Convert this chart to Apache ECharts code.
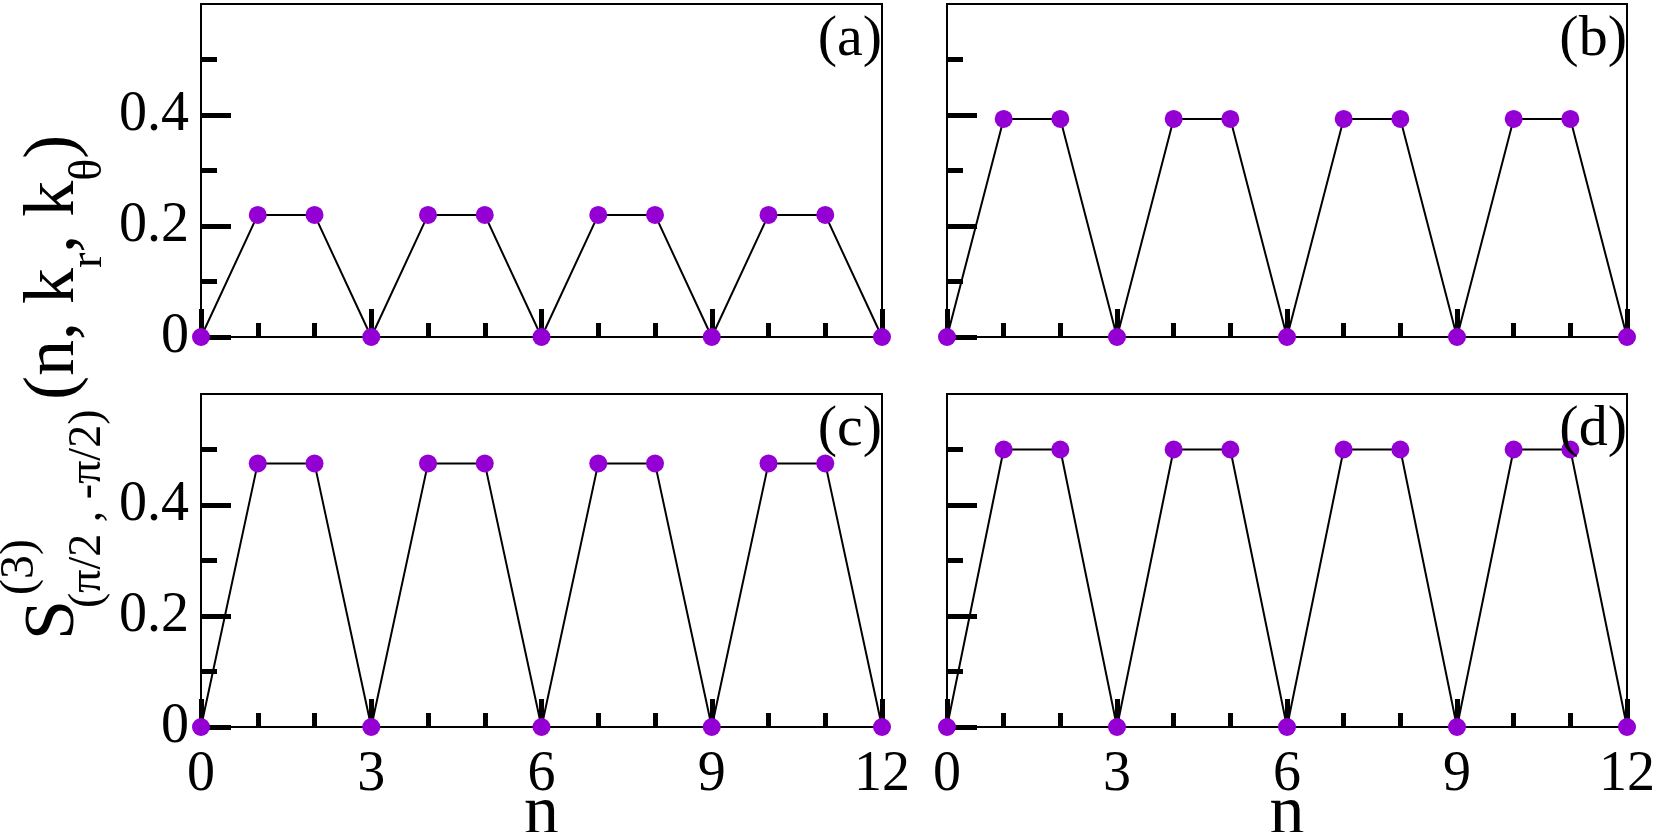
<!DOCTYPE html>
<html>
<head>
<meta charset="utf-8">
<script src="https://cdn.jsdelivr.net/npm/echarts@6/dist/echarts.min.js"></script>
<style>
  html, body { margin: 0; padding: 0; background: #fff; }
  #chart { width: 1661px; height: 832px; }
</style>
</head>
<body>
<div id="chart"></div>
<script>
// n values (x axis)
var nVals = [0, 1, 2, 3, 4, 5, 6, 7, 8, 9, 10, 11, 12];
// S values
var valsA = [0, 0.22, 0.22, 0, 0.22, 0.22, 0, 0.22, 0.22, 0, 0.22, 0.22, 0];
var valsB = [0, 0.393, 0.393, 0, 0.393, 0.393, 0, 0.393, 0.393, 0, 0.393, 0.393, 0];
var valsC = [0, 0.475, 0.475, 0, 0.475, 0.475, 0, 0.475, 0.475, 0, 0.475, 0.475, 0];
var valsD = [0, 0.5, 0.5, 0, 0.5, 0.5, 0, 0.5, 0.5, 0, 0.5, 0.5, 0];
var panelTags = ['(a)', '(b)', '(c)', '(d)'];
var yTickVals = [0, 0.2, 0.4];

var FONT = '"Liberation Serif", "Times New Roman", serif';
var myChart = echarts.init(document.getElementById('chart'));

var grids = [
  { left: 201, top: 4, width: 681, height: 333 },
  { left: 947, top: 4, width: 680, height: 333 },
  { left: 201, top: 394, width: 681, height: 333 },
  { left: 947, top: 394, width: 680, height: 333 }
];
var allVals = [valsA, valsB, valsC, valsD];

var xAxes = [], yAxes = [], series = [], graphics = [];
for (var i = 0; i < 4; i++) {
  var g = grids[i];
  g.show = true;
  g.borderColor = '#000';
  g.borderWidth = 2;
  g.containLabel = false;
  g.outerBoundsMode = 'none'; // keep the grid where it is set
  var bottom = i >= 2, left = (i % 2) === 0;
  xAxes.push({
    gridIndex: i, type: 'value', min: 0, max: 12, interval: 3, z: 3,
    name: bottom ? 'n' : '', nameLocation: 'middle', nameGap: 53, nameMoveOverlap: false,
    nameTextStyle: { fontSize: 70, fontFamily: FONT, color: '#000' },
    axisLine: { lineStyle: { color: '#000', width: 2 } },
    axisTick: { inside: true, length: 28, lineStyle: { color: '#000', width: 5 } },
    minorTick: { show: true, splitNumber: 3, length: 14, lineStyle: { color: '#000', width: 5 } },
    axisLabel: { show: bottom, margin: 20, fontSize: 56, fontFamily: FONT, color: '#000' },
    splitLine: { show: false }
  });
  yAxes.push({
    gridIndex: i, type: 'value', min: 0, max: 0.6, interval: 0.2, z: 3,
    axisLine: { lineStyle: { color: '#000', width: 2 } },
    axisTick: { inside: true, length: 30, customValues: yTickVals, lineStyle: { color: '#000', width: 5 } },
    minorTick: { show: true, splitNumber: 2, length: 16, lineStyle: { color: '#000', width: 5 } },
    axisLabel: {
      show: left, margin: 12, fontSize: 56, fontFamily: FONT, color: '#000',
      customValues: yTickVals,
      formatter: function (v) { return v > 0.5 ? '' : (v === 0 ? '0' : v.toFixed(1)); }
    },
    splitLine: { show: false }
  });
  var pts = [];
  for (var k = 0; k < nVals.length; k++) pts.push([nVals[k], allVals[i][k]]);
  series.push({
    type: 'line', xAxisIndex: i, yAxisIndex: i, data: pts,
    symbol: 'circle', symbolSize: 18, clip: false,
    lineStyle: { color: '#000', width: 2 },
    itemStyle: { color: '#9400D3' }
  });
  graphics.push({
    type: 'text', x: g.left + g.width, y: g.top + 36, z: 10,
    style: { text: panelTags[i], fontSize: 58, fontFamily: FONT, fill: '#000', align: 'right', verticalAlign: 'middle' }
  });
}

// y axis title, built from pieces so sup and sub can stack
var R = Math.PI / 2;
graphics.push(
  { type: 'text', x: 54, y: 640, rotation: R,
    style: { text: 'S', fontSize: 72, fontFamily: FONT, fill: '#000', align: 'left', verticalAlign: 'middle' } },
  { type: 'text', x: 20, y: 595, rotation: R,
    style: { text: '(3)', fontSize: 48, fontFamily: FONT, fill: '#000', align: 'left', verticalAlign: 'middle' } },
  { type: 'text', x: 88, y: 608, rotation: R,
    style: { text: '(π/2 , -π/2)', fontSize: 46, fontFamily: FONT, fill: '#000', align: 'left', verticalAlign: 'middle' } },
  { type: 'text', x: 54, y: 400, rotation: R,
    style: {
      text: '{m|(n, k}{s|r}{m|, k}{s|θ}{m|)}', fontFamily: FONT, fill: '#000',
      align: 'left', verticalAlign: 'middle',
      rich: {
        m: { fontSize: 72, lineHeight: 72, fontFamily: FONT, fill: '#000' },
        // top padding pushes the subscript down by half its size
        s: { fontSize: 46, lineHeight: 46, padding: [70, 0, 0, 0], fontFamily: FONT, fill: '#000' }
      }
    } }
);

myChart.setOption({
  animation: false,
  grid: grids,
  xAxis: xAxes,
  yAxis: yAxes,
  series: series,
  graphic: graphics
});
window.onresize = function () { myChart.resize(); };
</script>
</body>
</html>
